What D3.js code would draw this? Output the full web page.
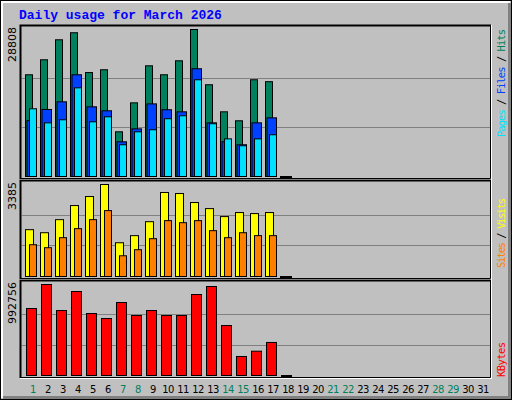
<!DOCTYPE html>
<html>
<head>
<meta charset="utf-8">
<script src="https://cdn.jsdelivr.net/npm/d3@7"></script>
<style>
body { margin: 0; background: #fff; }
svg text { font-family: "DejaVu Sans", sans-serif; }
</style>
</head>
<body>
<div id="chart"></div>
<script>
// values, March 1..18 (18 = today, empty)
const days = d3.range(1, 32);
const weekendDays = [1, 7, 8, 14, 15, 21, 22, 28, 29];
const hits   = [19935, 22874, 26791, 28174, 20367, 20915, 8758, 14433, 21692, 19935, 22672, 28808, 17976, 12676, 10918, 18956, 18581, 0];
const files  = [10976, 13136, 14634, 19935, 13655, 12877, 6799, 9334, 14231, 13079, 12676, 21116, 10515, 6799, 6222, 10515, 11494, 0];
const pages  = [13270, 10515, 11119, 17372, 10717, 11696, 6222, 8758, 9161, 11322, 11898, 18956, 10342, 7375, 6021, 7375, 8182, 0];
const visits = [1723, 1611, 2092, 2610, 2942, 3385, 1242, 1503, 2017, 3091, 3053, 2722, 2498, 2204, 2353, 2315, 2353, 0];
const sites  = [1169, 1059, 1428, 1760, 2092, 2424, 762, 985, 1391, 2055, 1980, 2055, 1686, 1428, 1611, 1503, 1503, 0];
const kbytes = [730700, 992756, 708800, 916300, 676100, 621500, 796200, 654200, 708800, 654200, 654200, 883600, 970900, 545000, 207500, 265100, 360400, 0];

const width = 512, height = 400;
const svg = d3.select('#chart').append('svg').attr('width', width).attr('height', height);

// frame
svg.append('rect').attr('width', width).attr('height', height).attr('fill', '#C0C0C0');
svg.append('rect').attr('x', 0.5).attr('y', 0.5).attr('width', width - 1).attr('height', height - 1)
    .attr('fill', 'none').attr('stroke', '#000');
svg.append('path').attr('d', 'M2,398V2H510').attr('fill', 'none').attr('stroke', '#fff').attr('stroke-width', 2);
svg.append('path').attr('d', 'M3,397.5H509.5V3').attr('fill', 'none').attr('stroke', '#808080').attr('stroke-width', 3);

svg.append('text').attr('x', 19).attr('y', 19)
    .style('font-family', '"Liberation Mono", monospace').style('font-weight', 'bold').style('font-size', '13px')
    .attr('fill', '#0000FF').text('Daily usage for March 2026');

const x = d3.scaleLinear().domain([1, 32]).range([25, 490]);

function panel(top, bottom, base, maxTop, maxVal, series, labels, labelStart, labelLen) {
    svg.append('rect').attr('x', 20.5).attr('y', top + 0.5).attr('width', 471).attr('height', bottom - top)
        .attr('fill', '#C0C0C0').attr('stroke', '#fff');
    svg.append('path').attr('d', `M20.5,${bottom}V${top + 0.5}H491`).attr('fill', 'none').attr('stroke', '#000').attr('stroke-width', 2);
    svg.append('path').attr('d', `M21,${bottom - 0.5}H490.5V${top}`).attr('fill', 'none').attr('stroke', '#000');
    const y = d3.scaleLinear().domain([0, maxVal]).range([base, maxTop]);
    [1 / 3, 2 / 3].forEach(f => {
        svg.append('line').attr('x1', 22).attr('x2', 490).attr('y1', Math.round(y(maxVal * f)) + 0.5).attr('y2', Math.round(y(maxVal * f)) + 0.5)
            .attr('stroke', '#808080');
    });
    series.forEach(s => {
        svg.append('g').selectAll('rect').data(s.values).enter().append('rect')
            .attr('x', (d, i) => x(i + 1) + s.x0 + 0.5)
            .attr('width', s.x1 - s.x0)
            .attr('y', d => y(d) + 0.5)
            .attr('height', d => Math.max(base - y(d), 1))
            .attr('fill', d => d ? s.color : '#000').attr('stroke', '#000');
    });
    svg.append('text').attr('transform', `translate(16,${top + 2}) rotate(-90)`)
        .attr('text-anchor', 'end').style('font-size', '11px').text(maxVal);
    const t = svg.append('text').attr('transform', `translate(505,${labelStart}) rotate(-90)`)
        .attr('textLength', labelLen).attr('lengthAdjust', 'spacing')
        .style('font-family', '"DejaVu Sans Mono", monospace').style('font-size', '10.5px');
    labels.forEach((l, i) => {
        if (i) t.append('tspan').attr('fill', '#000').text(' / ');
        t.append('tspan').attr('fill', l.color).text(l.text);
    });
}

panel(25, 179, 176, 29, 28808, [
    { values: hits, color: '#00805C', x0: 0, x1: 7 },
    { values: files, color: '#0040FF', x0: 1.5, x1: 11 },
    { values: pages, color: '#00E0FF', x0: 4, x1: 11 }
], [{ text: 'Pages', color: '#00E0FF' }, { text: 'Files', color: '#0040FF' }, { text: 'Hits', color: '#00805C' }], 137, 108);

panel(180, 279, 276, 184, 3385, [
    { values: visits, color: '#FFFF00', x0: 0, x1: 8 },
    { values: sites, color: '#FF8000', x0: 4, x1: 11 }
], [{ text: 'Sites', color: '#FF8000' }, { text: 'Visits', color: '#FFFF00' }], 268, 70);

panel(280, 378, 375, 284, 992756, [
    { values: kbytes, color: '#FF0000', x0: 1, x1: 11 }
], [{ text: 'KBytes', color: '#FF0000' }], 377, 35);

svg.append('g').selectAll('text').data(days).enter().append('text')
    .attr('x', d => x(d) + 8).attr('y', 393).attr('text-anchor', 'middle')
    .style('font-size', '10px').style('letter-spacing', '-0.6px')
    .attr('fill', d => weekendDays.includes(d) ? '#00805C' : '#000').text(d => d);
</script>
</body>
</html>
